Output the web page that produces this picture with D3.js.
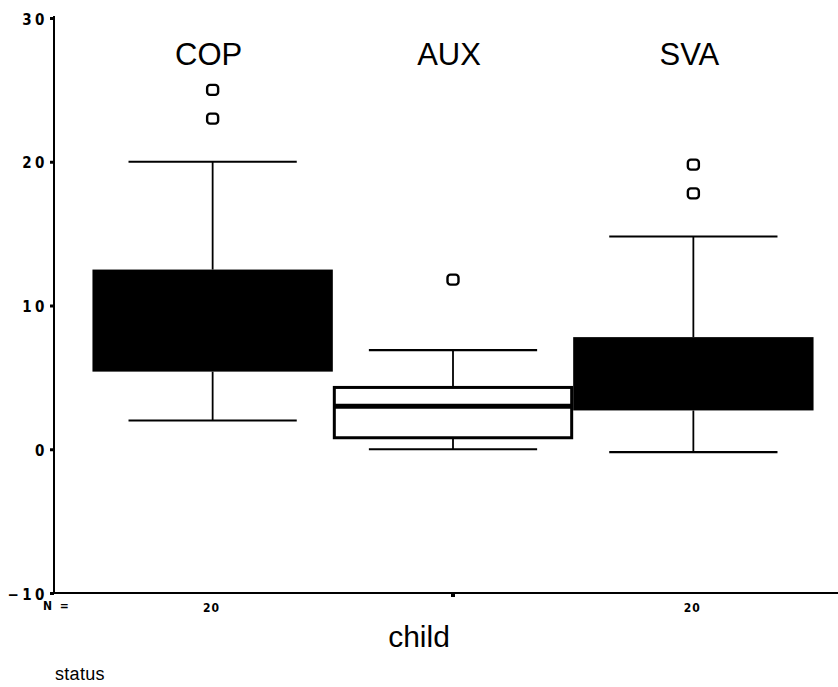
<!DOCTYPE html>
<html>
<head>
<meta charset="utf-8">
<script src="https://cdn.jsdelivr.net/npm/d3@7"></script>
<style>
  body { margin: 0; background: #fff; }
  svg { display: block; }
  .tick-label { font-family: "DejaVu Sans Condensed", "DejaVu Sans", sans-serif; font-weight: bold; }
</style>
</head>
<body>
<svg id="chart"></svg>
<script>
// data
const groups = ["COP", "AUX", "SVA"];
const nCounts = ["20", "", "20"];
const whiskerLow = [2, 0, -0.2];
const q1 = [5.4, 0.8, 2.7];
const median = [null, 3.0, null];
const q3 = [12.5, 4.3, 7.8];
const whiskerHigh = [20, 6.9, 14.8];
const outliers = [[25, 23], [11.8], [19.8, 17.8]];
const boxFilled = [true, false, true];
const yTicks = [-10, 0, 10, 20, 30];

const W = 838, H = 687;
const axisX = 54, axisY = 593, plotTop = 18;

const svg = d3.select("#chart").attr("width", W).attr("height", H);

const y = d3.scaleLinear().domain([-10, 30]).range([axisY, plotTop]);
const x = d3.scaleBand().domain(groups).range([axisX, 852]).paddingInner(0).paddingOuter(0.16);

const rows = groups.map((g, i) => ({
  g, n: nCounts[i], lo: whiskerLow[i], q1: q1[i], med: median[i],
  q3: q3[i], hi: whiskerHigh[i], out: outliers[i], filled: boxFilled[i]
}));

// y axis
const yAxis = svg.append("g")
  .attr("transform", `translate(${axisX},0)`)
  .call(d3.axisLeft(y).tickValues(yTicks).tickSize(4).tickPadding(2).tickFormat(d3.format("d")));
yAxis.select(".domain").attr("stroke-width", 2).attr("d", `M0,${plotTop - 2}V${axisY}`);
yAxis.selectAll(".tick line").attr("stroke-width", 3);
yAxis.selectAll(".tick text")
  .attr("class", "tick-label")
  .style("font-size", "15px")
  .style("letter-spacing", "3.5px")
  .attr("dy", "0.4em");

// x axis
const xAxis = svg.append("g")
  .attr("transform", `translate(0,${axisY})`)
  .call(d3.axisBottom(x).tickSize(4).tickFormat(""));
xAxis.select(".domain").attr("stroke-width", 2).attr("d", `M${axisX},0H${W}`);
xAxis.selectAll(".tick line")
  .attr("stroke-width", 4)
  .attr("opacity", d => rows.find(r => r.g === d).n === "" ? 1 : 0);

// N labels
svg.append("text")
  .attr("class", "tick-label")
  .attr("x", 43).attr("y", 610)
  .style("font-size", "12px")
  .style("letter-spacing", "2px")
  .text("N =");

const cx = d => x(d.g) + x.bandwidth() / 2;
const capHalf = x.bandwidth() * 0.35;

svg.selectAll(".n-label")
  .data(rows)
  .join("text")
  .attr("class", "tick-label n-label")
  .attr("x", d => cx(d) - 1)
  .attr("y", 612)
  .attr("text-anchor", "middle")
  .style("font-size", "12px")
  .style("letter-spacing", "1px")
  .text(d => d.n);

// boxes
const boxG = svg.selectAll(".box")
  .data(rows)
  .join("g")
  .attr("class", "box");

// whisker stems
boxG.append("line")
  .attr("x1", cx).attr("x2", cx)
  .attr("y1", d => y(d.hi)).attr("y2", d => y(d.q3))
  .attr("stroke", "#000").attr("stroke-width", 1.8);
boxG.append("line")
  .attr("x1", cx).attr("x2", cx)
  .attr("y1", d => y(d.q1)).attr("y2", d => y(d.lo))
  .attr("stroke", "#000").attr("stroke-width", 1.8);

// whisker caps
["hi", "lo"].forEach(k => {
  boxG.append("line")
    .attr("x1", d => cx(d) - capHalf).attr("x2", d => cx(d) + capHalf)
    .attr("y1", d => y(d[k])).attr("y2", d => y(d[k]))
    .attr("stroke", "#000").attr("stroke-width", 2.2);
});

// box body
boxG.append("rect")
  .attr("x", d => x(d.g) + (d.filled ? 0 : 1.5))
  .attr("width", d => x.bandwidth() - (d.filled ? 0 : 3))
  .attr("y", d => y(d.q3))
  .attr("height", d => y(d.q1) - y(d.q3))
  .attr("fill", d => d.filled ? "#000" : "#fff")
  .attr("stroke", "#000")
  .attr("stroke-width", d => d.filled ? 0 : 3);

// median
boxG.filter(d => d.med !== null).append("line")
  .attr("x1", d => x(d.g) + 1.5).attr("x2", d => x(d.g) + x.bandwidth() - 1.5)
  .attr("y1", d => y(d.med)).attr("y2", d => y(d.med))
  .attr("stroke", "#000").attr("stroke-width", 5);

// outliers
boxG.selectAll(".outlier")
  .data(d => d.out.map(v => ({ g: d.g, v })))
  .join("rect")
  .attr("class", "outlier")
  .attr("x", d => cx(d) - 5.5)
  .attr("y", d => y(d.v) - 5)
  .attr("width", 11).attr("height", 10)
  .attr("rx", 3)
  .attr("fill", "none")
  .attr("stroke", "#000")
  .attr("stroke-width", 2.4);

// group headers
svg.selectAll(".header")
  .data(rows)
  .join("text")
  .attr("class", "header")
  .attr("x", d => cx(d) - 4)
  .attr("y", 65)
  .attr("text-anchor", "middle")
  .style("font-family", "'Liberation Sans', Arial, sans-serif")
  .style("font-size", "31px")
  .text(d => d.g);

// axis titles
svg.append("text")
  .attr("x", 419).attr("y", 647)
  .attr("text-anchor", "middle")
  .style("font-family", "'Liberation Sans', Arial, sans-serif")
  .style("font-size", "30px")
  .text("child");

svg.append("text")
  .attr("x", 55).attr("y", 680)
  .style("font-family", "'Liberation Sans', Arial, sans-serif")
  .style("font-size", "18px")
  .style("letter-spacing", "0.3px")
  .text("status");
</script>
</body>
</html>
